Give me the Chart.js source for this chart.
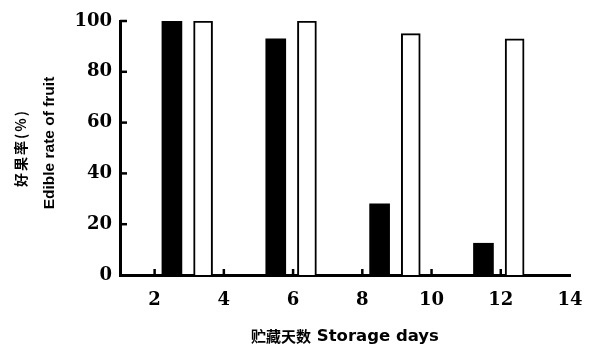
<!DOCTYPE html>
<html>
<head>
<meta charset="utf-8">
<script src="https://cdn.jsdelivr.net/npm/chart.js@4"></script>
<style>
  body { margin: 0; background: #fff; }
  #wrap { width: 590px; height: 347px; }
</style>
</head>
<body>
<div id="wrap"><canvas id="fruitChart"></canvas></div>
<script>
// storage day positions of the bars and edible rate (%)
const darkDays = [2.5, 5.5, 8.5, 11.5];
const darkRate = [100, 93, 28, 12.5];
const lightDays = [3.4, 6.4, 9.4, 12.4];
const lightRate = [100, 100, 95, 93];

const xTicks = [2, 4, 6, 8, 10, 12, 14];
const yTicks = [0, 20, 40, 60, 80, 100];
const xMarks = [2, 4, 6, 8, 10, 12]; // small inward ticks on x axis
const yMarks = [20, 40, 60, 80, 100];

const xTitleCn = "贮藏天数";
const xTitleEn = "Storage days";
const yTitleCn = "好果率(%)";
const yTitleEn = "Edible rate of fruit";

const tickFont = { family: "DejaVu Serif", size: 18, weight: "bold" };

// inward tick marks + mixed-font axis titles
const axisExtras = {
  id: "axisExtras",
  afterDatasetsDraw(chart) {
    const ctx = chart.ctx;
    const x = chart.scales.x;
    const y = chart.scales.y;
    ctx.save();
    ctx.strokeStyle = "#000";
    ctx.lineWidth = 2.5;
    xMarks.forEach((v) => {
      const px = x.getPixelForValue(v);
      ctx.beginPath();
      ctx.moveTo(px, y.bottom);
      ctx.lineTo(px, y.bottom - 6);
      ctx.stroke();
    });
    yMarks.forEach((v) => {
      const py = y.getPixelForValue(v);
      ctx.beginPath();
      ctx.moveTo(x.left, py);
      ctx.lineTo(x.left + 7, py);
      ctx.stroke();
    });

    ctx.fillStyle = "#000";
    ctx.textBaseline = "middle";

    // x title: chinese + english side by side
    const cnFont = 'bold 15px "Noto Sans CJK SC"';
    const enFont = 'bold 16.5px "DejaVu Sans"';
    ctx.font = cnFont;
    const wCn = ctx.measureText(xTitleCn).width;
    ctx.font = enFont;
    const wEn = ctx.measureText(" " + xTitleEn).width;
    const cx = (x.left + x.right) / 2;
    const ty = y.bottom + 61;
    const sx = cx - (wCn + wEn) / 2;
    ctx.textAlign = "left";
    ctx.font = cnFont;
    ctx.fillText(xTitleCn, sx, ty);
    ctx.font = enFont;
    ctx.fillText(" " + xTitleEn, sx + wCn, ty + 1);

    // y title: two rotated lines
    const cy = (y.top + y.bottom) / 2;
    ctx.textAlign = "center";
    ctx.save();
    ctx.translate(21, cy);
    ctx.rotate(-Math.PI / 2);
    ctx.font = 'bold 14px "Noto Sans CJK SC"';
    ctx.letterSpacing = "2px";
    ctx.fillText(yTitleCn, 0, 0);
    ctx.restore();
    ctx.save();
    ctx.translate(50, cy - 5);
    ctx.rotate(-Math.PI / 2);
    ctx.font = 'bold 15.5px "Liberation Sans"';
    ctx.fillText(yTitleEn, 0, 0);
    ctx.restore();

    ctx.restore();
  },
};

const ctx = document.getElementById("fruitChart").getContext("2d");
const chart = new Chart(ctx, {
  type: "bar",
  data: {
    datasets: [
      {
        data: darkDays.map((d, i) => ({ x: d, y: darkRate[i] })),
        backgroundColor: "#000",
        borderColor: "#000",
        borderWidth: 0,
        barThickness: 20,
        grouped: false,
      },
      {
        data: lightDays.map((d, i) => ({ x: d, y: lightRate[i] })),
        backgroundColor: "#fff",
        borderColor: "#000",
        borderWidth: 2,
        borderSkipped: "bottom",
        barThickness: 19,
        grouped: false,
      },
    ],
  },
  options: {
    responsive: true,
    maintainAspectRatio: false,
    animation: false,
    layout: { padding: { top: 21, right: 20, left: 0, bottom: 0 } },
    plugins: { legend: { display: false }, tooltip: { enabled: false } },
    scales: {
      x: {
        type: "linear",
        min: 1,
        max: 14,
        offset: false,
        afterBuildTicks: (scale) => {
          scale.ticks = xTicks.map((v) => ({ value: v }));
        },
        afterFit: (scale) => {
          scale.height = 72;
          scale.paddingLeft = 0;
          scale.paddingRight = 0;
        },
        grid: { display: false, drawTicks: false },
        border: { display: true, color: "#000", width: 3 },
        ticks: { color: "#000", font: tickFont, padding: 15, maxRotation: 0 },
      },
      y: {
        min: 0,
        max: 100,
        afterBuildTicks: (scale) => {
          scale.ticks = yTicks.map((v) => ({ value: v }));
        },
        afterFit: (scale) => {
          scale.width = 120;
        },
        grid: { display: false, drawTicks: false },
        border: { display: true, color: "#000", width: 3 },
        ticks: { color: "#000", font: tickFont, padding: 8 },
      },
    },
  },
  plugins: [axisExtras],
});
</script>
</body>
</html>
